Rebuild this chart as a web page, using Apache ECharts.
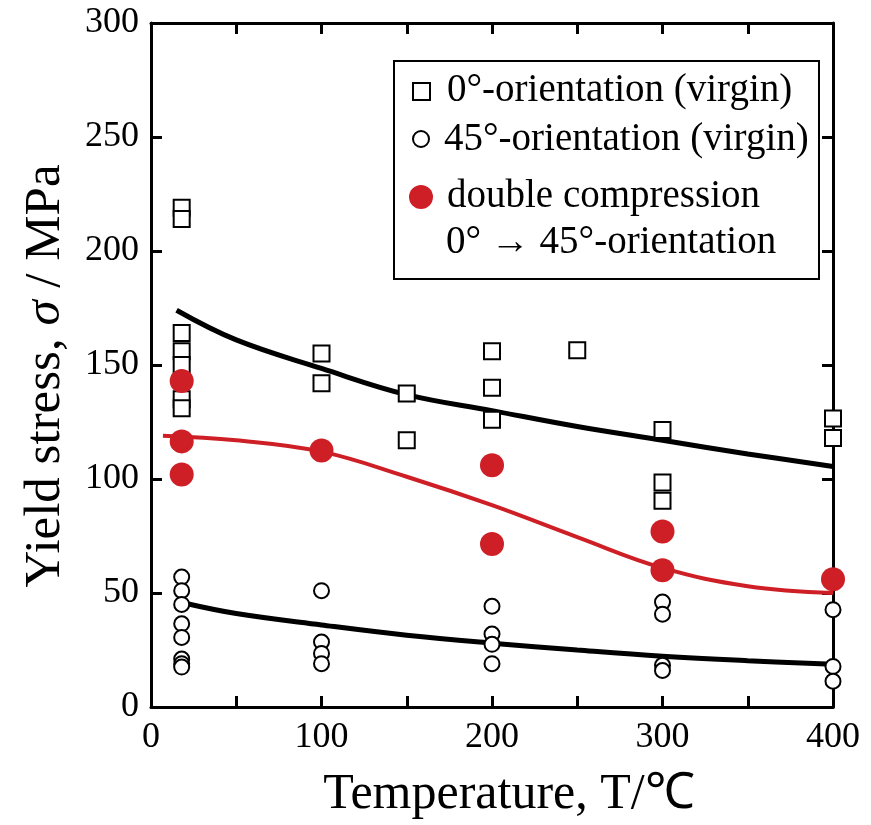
<!DOCTYPE html>
<html>
<head>
<meta charset="utf-8">
<script src="https://cdn.jsdelivr.net/npm/echarts@6/dist/echarts.min.js"></script>
<style>html,body{margin:0;padding:0;background:#fff;font-family:'Liberation Serif',serif}#c{width:871px;height:825px}</style>
</head>
<body>
<div id="c"></div>
<script>
// ---- data ----
var squaresT = [18,18,18,18,18,18,18, 100,100, 150,150, 200,200,200, 250, 300,300,300, 400,400];
var squaresY = [219,214,164,156,150,135,131, 155,142, 137.5,117, 156,140,126, 156.5, 121.5,98.5,90.5, 126.5,118];
var circlesT = [18,18,18,18,18,18,18,18, 100,100,100,100, 200,200,200,200, 300,300,300,300, 400,400,400];
var circlesY = [57,51,45,36.5,30.5,21,19,17.5, 51,28.5,23.5,19, 44.2,32,27.5,19, 46,40.7,18.3,16, 42.7,17.8,11.3];
var redT = [18,18,18, 100, 200,200, 300,300, 400];
var redY = [143,116.5,102, 112.5, 106,71.5, 77,60, 56];
var fitTopT = [15,50,100,150,200,250,300,350,400];
var fitTopY = [174,161,148.5,137,130,123,117,111,105.5];
var fitRedT = [7,50,100,150,200,250,300,350,400];
var fitRedY = [119,117,112,101,88.5,74.5,61,53,50];
var fitBotT = [20,50,100,150,200,250,300,350,400];
var fitBotY = [45.5,41,36,31.5,28,25,22.3,20.3,18.7];
var xTicks = [0,100,200,300,400];
var legendLabels = ['0°-orientation (virgin)', '45°-orientation (virgin)', 'double compression', '0° → 45°-orientation'];

function pairs(a,b){return a.map(function(v,i){return [v,b[i]];});}

var FONT = 'Liberation Serif';
var chart = echarts.init(document.getElementById('c'));
function axisLine(){return {show:true, onZero:false, lineStyle:{color:'#000', width:3}};}
function tick(){return {show:true, inside:true, length:11, lineStyle:{color:'#000', width:3}};}
chart.setOption({
  animation:false,
  textStyle:{fontFamily:FONT},
  grid:{left:151, right:38, top:23, bottom:118},
  xAxis:[{
    type:'value', min:0, max:400, interval:50, position:'bottom',
    axisLine:axisLine(), axisTick:tick(), splitLine:{show:false},
    axisLabel:{margin:13, fontFamily:FONT, fontSize:36, color:'#000',
      formatter:function(v){return xTicks.indexOf(v)>=0 ? String(v) : '';}},
    name:'Temperature, T/℃', nameLocation:'middle', nameGap:63,
    nameTextStyle:{fontFamily:FONT, fontSize:50, color:'#000', padding:[0,0,0,34]}
  },{
    type:'value', min:0, max:400, interval:50, position:'top',
    axisLine:axisLine(), axisTick:tick(), axisLabel:{show:false}, splitLine:{show:false}
  }],
  yAxis:[{
    type:'value', min:0, max:300, interval:50, position:'left',
    axisLine:axisLine(), axisTick:tick(), splitLine:{show:false},
    axisLabel:{margin:12, fontFamily:FONT, fontSize:36, color:'#000'},
    name:'Yield stress, {i|σ} / MPa', nameLocation:'middle', nameGap:80,
    nameTextStyle:{fontFamily:FONT, fontSize:51, color:'#000', padding:[0,22,0,0],
      rich:{i:{fontFamily:FONT, fontSize:51, fontStyle:'italic', color:'#000'}}}
  },{
    type:'value', min:0, max:300, interval:50, position:'right',
    axisLine:axisLine(), axisTick:tick(), axisLabel:{show:false}, splitLine:{show:false}
  }],
  series:[
    {type:'line', data:pairs(fitTopT,fitTopY), smooth:0.4, showSymbol:false, symbol:'none',
      lineStyle:{color:'#000', width:5}, z:2},
    {type:'line', data:pairs(fitBotT,fitBotY), smooth:0.4, showSymbol:false, symbol:'none',
      lineStyle:{color:'#000', width:5}, z:2},
    {type:'line', data:pairs(fitRedT,fitRedY), smooth:0.4, showSymbol:false, symbol:'none',
      lineStyle:{color:'#cd1f25', width:4}, z:2},
    {type:'scatter', name:legendLabels[0], data:pairs(squaresT,squaresY), symbol:'rect', symbolSize:16, clip:false,
      itemStyle:{color:'#fff', borderColor:'#000', borderWidth:2, opacity:1}, z:4},
    {type:'scatter', name:legendLabels[1], data:pairs(circlesT,circlesY), symbol:'circle', symbolSize:15, clip:false,
      itemStyle:{color:'#fff', borderColor:'#000', borderWidth:2, opacity:1}, z:4},
    {type:'scatter', name:legendLabels[2], data:pairs(redT,redY), symbol:'circle', symbolSize:24, clip:false,
      itemStyle:{color:'#cd1f25', opacity:1}, z:5}
  ],
  graphic:[
    {type:'rect', left:393, top:60, z:10, shape:{width:425, height:218},
      style:{fill:'#fff', stroke:'#000', lineWidth:2}},
    {type:'rect', z:11, shape:{x:413, y:83, width:17, height:17}, style:{fill:'#fff', stroke:'#000', lineWidth:2}},
    {type:'circle', z:11, shape:{cx:421, cy:139, r:8}, style:{fill:'#fff', stroke:'#000', lineWidth:2}},
    {type:'circle', z:11, shape:{cx:421, cy:197, r:12}, style:{fill:'#cd1f25'}},
    {type:'text', z:11, style:{x:447, y:91, text:legendLabels[0], fontFamily:FONT, fontSize:39, fill:'#000', verticalAlign:'middle'}},
    {type:'text', z:11, style:{x:444, y:140, text:legendLabels[1], fontFamily:FONT, fontSize:39, fill:'#000', verticalAlign:'middle'}},
    {type:'text', z:11, style:{x:447, y:197, text:legendLabels[2], fontFamily:FONT, fontSize:39, fill:'#000', verticalAlign:'middle'}},
    {type:'text', z:11, style:{x:446, y:243, text:legendLabels[3], fontFamily:FONT, fontSize:39, fill:'#000', verticalAlign:'middle'}}
  ]
});
</script>
</body>
</html>
